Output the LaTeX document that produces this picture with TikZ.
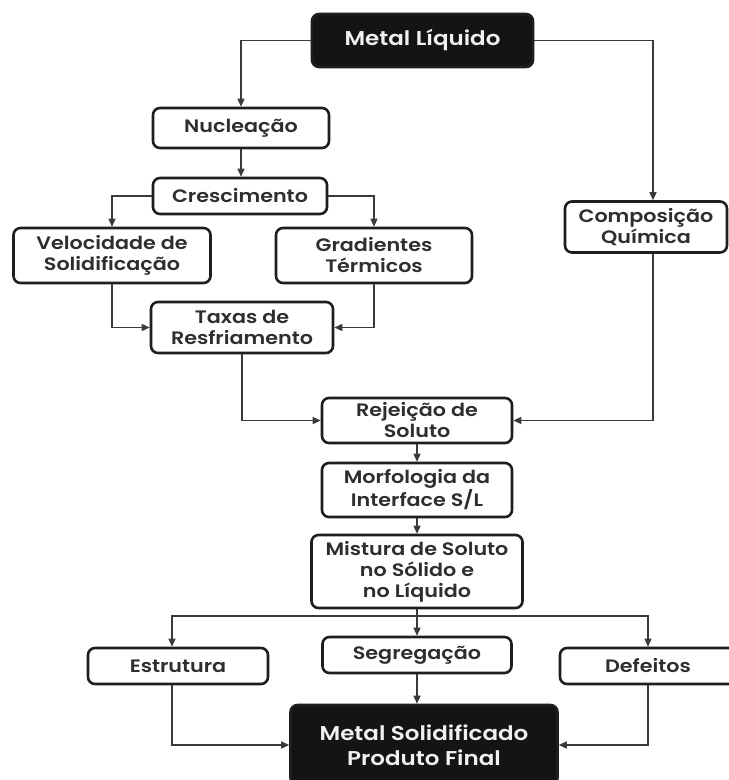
\documentclass[tikz,border=0pt]{standalone}
\usepackage{fontspec}
\setmainfont{Poppins}[FakeStretch=1.15, BoldFont={Poppins SemiBold}]
\usetikzlibrary{arrows.meta}
\definecolor{boxc}{HTML}{1E1E1E}
\definecolor{txtc}{HTML}{2E2E2E}
\definecolor{linec}{HTML}{3A3A3A}
\definecolor{darkfill}{HTML}{141414}
\definecolor{lighttxt}{HTML}{F0F0F0}
\begin{document}
\begin{tikzpicture}[x=1pt,y=-1pt,
  box/.style={draw=boxc, line width=2.6pt, rounded corners=7pt, fill=white, text=txtc,
    align=center, inner sep=0pt, font=\fontsize{18}{21}\selectfont\bfseries},
  darkbox/.style={box, fill=darkfill, text=lighttxt, font=\fontsize{20}{25}\selectfont\bfseries},
  conn/.style={draw=linec, line width=1.4pt, -{Triangle[length=8pt,width=7pt]}}]
\useasboundingbox (0,0) rectangle (729,780);
\fill[white] (0,0) rectangle (729,780);

\node[darkbox, minimum width=221pt, minimum height=53pt] (ml) at (422.5,40.5) {Metal Líquido};
\node[box, minimum width=176pt, minimum height=40pt] (nuc) at (241,128) {Nucleação};
\node[box, minimum width=174pt, minimum height=36pt] (cres) at (240,196) {Crescimento};
\node[box, minimum width=197pt, minimum height=55pt] (vel) at (112,255.5) {Velocidade de\\Solidificação};
\node[box, minimum width=196pt, minimum height=55pt] (gra) at (374,255.5) {Gradientes\\Térmicos};
\node[box, minimum width=162pt, minimum height=51pt] (comp) at (646,227) {Composição\\Química};
\node[box, minimum width=182pt, minimum height=51pt] (tax) at (242,327.5) {Taxas de\\Resfriamento};
\node[box, minimum width=190pt, minimum height=45pt] (rej) at (417,420.5) {Rejeição de\\Soluto};
\node[box, minimum width=190pt, minimum height=54pt] (morf) at (417,490) {Morfologia da\\Interface S/L};
\node[box, minimum width=211pt, minimum height=73pt] (mis) at (417,571.5) {Mistura de Soluto\\no Sólido e\\no Líquido};
\node[box, minimum width=180pt, minimum height=36pt] (est) at (178,666) {Estrutura};
\node[box, minimum width=189pt, minimum height=36pt] (seg) at (417,655) {Segregação};
\node[box, minimum width=176pt, minimum height=36pt] (def) at (648,666) {Defeitos};
\node[darkbox, minimum width=267pt, minimum height=80pt] (msol) at (424,745) {Metal Solidificado\\Produto Final};

\coordinate (split) at (417,616);

\draw[conn] (ml.west) -| (nuc.north);
\draw[conn] (ml.east) -| ([xshift=7pt]comp.north);
\draw[conn] (nuc.south) -- (nuc.south |- cres.north);
\draw[conn] (cres.west) -| (vel.north);
\draw[conn] (cres.east) -| (gra.north);
\draw[conn] (vel.south) |- (tax.west);
\draw[conn] (gra.south) |- (tax.east);
\draw[conn] (tax.south) |- (rej.west);
\draw[conn] ([xshift=7pt]comp.south) |- (rej.east);
\draw[conn] (rej.south) -- (morf.north);
\draw[conn] (morf.south) -- (mis.north);
\draw[conn] (mis.south) -- (seg.north);
\draw[conn] (split) -| ([xshift=-6pt]est.north);
\draw[conn] (split) -| (def.north);
\draw[conn] (seg.south) -- (seg.south |- msol.north);
\draw[conn] ([xshift=-6pt]est.south) |- (msol.west);
\draw[conn] (def.south) |- (msol.east);
\end{tikzpicture}
\end{document}
